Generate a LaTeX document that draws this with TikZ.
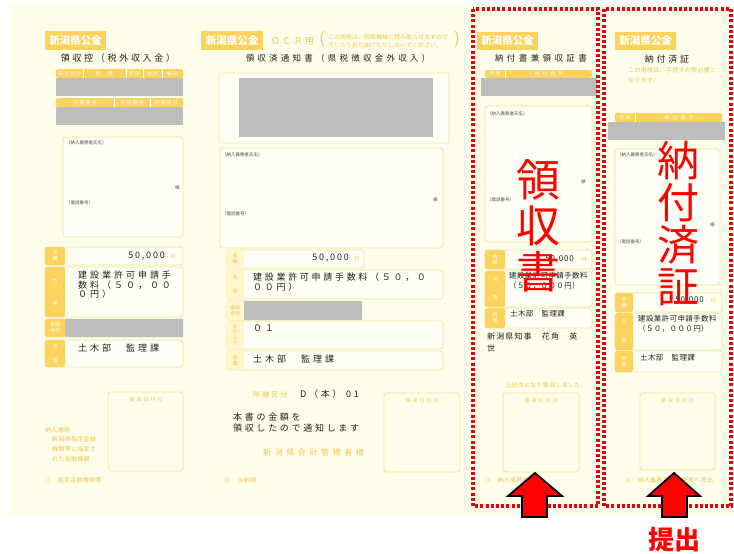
\documentclass[tikz,border=0pt]{standalone}
\usepackage{fontspec}
\setmainfont{Noto Sans CJK JP}
\definecolor{paper}{HTML}{FFFEEA}
\definecolor{yel}{HTML}{FCD35C}
\definecolor{ytx}{HTML}{F3C54E}
\definecolor{bln}{HTML}{F6E3A2}
\definecolor{tabpale}{HTML}{FFF6CC}
\definecolor{gry}{HTML}{BDBDBD}
\definecolor{ink}{HTML}{222222}
\definecolor{rd}{HTML}{FF0000}
\definecolor{rdd}{HTML}{E3000F}
\newcommand\Fz[3]{\fontsize{#1pt}{#2pt}\selectfont\addfontfeature{LetterSpace=#3}}
\newcommand\frow[6]{%
  \draw[obox] (#1,#2) rectangle (#3,#4);
  \fill[#6] (#1,#2) rectangle (#5,#4);}
\tikzset{
  panel/.style={fill=paper, draw=none},
  badge/.style={fill=yel},
  badgetxt/.style={text=white, inner sep=0, font={\Fz{10.5}{10.5}{0}\bfseries}},
  title/.style={text=ink, inner sep=0},
  hdr/.style={fill=yel, rounded corners=2},
  hdrtxt/.style={text=white, inner sep=0, font={\Fz{5}{5}{20}}},
  graybox/.style={fill=gry},
  obox/.style={draw=bln, line width=0.8, rounded corners=3, fill=white!55!paper},
  tabf/.style={fill=yel, rounded corners=2},
  tabn/.style={fill=tabpale, rounded corners=2},
  tabtxt/.style={text=white, inner sep=0, font={\Fz{5}{6}{0}}, align=center},
  tabtxtn/.style={text=ytx, inner sep=0, font={\Fz{5}{6}{0}}, align=center},
  ytxt/.style={text=ytx, inner sep=0},
  ktxt/.style={text=ink, inner sep=0, anchor=west},
  small/.style={text=ink!80, inner sep=0, font={\Fz{4.5}{5}{0}}, anchor=west},
  redtxt/.style={text=rd, inner sep=0, align=center},
  dotborder/.style={draw=rdd, line width=3.2, dash pattern=on 3 off 2.2},
  arrowshape/.style={fill=rd, draw=black, line width=1.8, line join=miter},
  stamp/.style={draw=bln, line width=0.9, rounded corners=3},
}
\begin{document}
\begin{tikzpicture}[x=1pt,y=-1pt]
\useasboundingbox (0,0) rectangle (734,554);
\fill[white] (0,0) rectangle (734,554);
\fill[panel] (10,5) rectangle (734,515);

% ================= Form 1 =================
\fill[badge] (45,31) rectangle (106,50);
\node[badgetxt] (b1) at (75.5,40.5) {新潟県公金};
\node[title, font={\Fz{9}{9}{30}}] (t1) at (118,58) {領収控（税外収入金）};
\fill[hdr] (56,69) rectangle (183,78);
\draw[white, line width=0.8] (83,69)--(83,78) (126,69)--(126,78) (143,69)--(143,78) (162,69)--(162,78);
\node[hdrtxt] (h11) at (69.5,73.5) {収入区分};
\node[hdrtxt] (h12) at (104.5,73.5) {所　属};
\node[hdrtxt] (h13) at (134.5,73.5) {年度};
\node[hdrtxt] (h14) at (152.5,73.5) {会計};
\node[hdrtxt] (h15) at (172.5,73.5) {細区};
\fill[graybox] (56,78) rectangle (183,96);
\fill[hdr] (56,98) rectangle (183,107);
\draw[white, line width=0.8] (114,98)--(114,107) (150,98)--(150,107);
\node[hdrtxt] (h16) at (85,102.5) {決議番号};
\node[hdrtxt] (h17) at (132,102.5) {内訳番号};
\node[hdrtxt] (h18) at (166.5,102.5) {所轄区分};
\fill[graybox] (56,107) rectangle (183,125);
\draw[obox] (63,137) rectangle (183,237);
\node[small] (s11) at (66,143) {（納入義務者氏名）};
\node[small] (s12) at (175,188) {様};
\node[small] (s13) at (66,203) {（電話番号）};
\frow{45}{247}{183}{265}{65}{tabf}
\node[tabtxt] (l11) at (55,256) {金\\額};
\node[ktxt, font={\Fz{9}{9}{20}}, anchor=east] (a1) at (165,256) {50,000};
\node[ytxt, font={\Fz{5}{5}{0}}] (y1) at (173,257) {円};
\frow{45}{267}{183}{317}{65}{tabf}
\node[tabtxt] (l12) at (55,282) {内};
\node[tabtxt] (l13) at (55,304) {容};
\node[ktxt, font={\Fz{9}{9.5}{33}}, align=left, anchor=north west] (c1) at (78,271) {建設業許可申請手\\数料（５０，００\\０円）};
\frow{45}{319}{183}{337}{65}{tabf}
\fill[graybox] (65,319) rectangle (183,337);
\node[tabtxt] (l14) at (55,328) {番納\\号付};
\frow{45}{340}{183}{367}{65}{tabf}
\node[tabtxt] (l15) at (55,347) {所};
\node[tabtxt] (l16) at (55,361) {属};
\node[ktxt, font={\Fz{9}{9}{33}}] (d1) at (78,348) {土木部　監理課};
\draw[stamp] (108,392) rectangle (183,471);
\node[ytxt, font={\Fz{5}{5}{40}}] (st1) at (146,400) {領収日付印};
\node[ytxt, font={\Fz{6}{6}{5}}, anchor=west] (p1) at (45,430) {納入場所};
\node[ytxt, font={\Fz{6}{10}{5}}, anchor=north west, align=left] (p2) at (52,436) {新潟県指定金融\\機関等に指定さ\\れた金融機関};
\node[ytxt, font={\Fz{6}{6}{5}}, anchor=west] (p3) at (45,480) {①　指定金融機関等};

% ================= Form 2 =================
\fill[badge] (201,31) rectangle (263,50);
\node[badgetxt] (b2) at (232,40.5) {新潟県公金};
\node[ytxt, font={\Fz{9}{9}{25}}, anchor=west] (ocr) at (271,41) {ＯＣＲ用};
\node[ytxt, font={\Fz{16}{16}{0}}] (par1) at (322,40) {(};
\node[ytxt, font={\Fz{6}{8}{0}}, anchor=west, align=left] (ocrn) at (328,41) {この用紙は、読取機械に読み取らせますので\\汚したり折り曲げたりしないでください。};
\node[ytxt, font={\Fz{16}{16}{0}}] (par2) at (457,40) {)};
\node[title, font={\Fz{8.5}{8.5}{38}}] (t2) at (338,58) {領収済通知書（県税徴収金外収入）};
\draw[obox] (219,73) rectangle (449,143);
\fill[graybox] (239,78) rectangle (433,137);
\draw[obox] (220,148) rectangle (443,248);
\node[small] (s21) at (222,155) {（納入義務者氏名）};
\node[small] (s22) at (433,200) {様};
\node[small] (s23) at (222,214) {（電話番号）};
\frow{226}{250}{364}{268}{244}{tabn}
\node[tabtxtn] (l21) at (235,259) {金\\額};
\node[ktxt, font={\Fz{9}{9}{20}}, anchor=east] (a2) at (349,258) {50,000};
\node[ytxt, font={\Fz{5}{5}{0}}] (y2) at (357,259) {円};
\frow{226}{270}{443}{299}{244}{tabn}
\node[tabtxtn] (l22) at (235,278) {内};
\node[tabtxtn] (l23) at (235,292) {容};
\node[ktxt, font={\Fz{9}{9.5}{30}}, align=left, anchor=north west] (c2) at (253,273) {建設業許可申請手数料（５０，０\\００円）};
\frow{226}{301}{362}{320}{244}{tabn}
\fill[graybox] (244,301) rectangle (362,320);
\node[tabtxtn] (l24) at (235,310.5) {番納\\号付};
\frow{226}{321}{443}{349}{244}{tabn}
\node[tabtxtn, font={\Fz{4.5}{5.5}{0}}] (l25) at (235,335) {会\\計\\区\\分};
\node[ktxt, font={\Fz{9}{9}{30}}] (k2) at (253,328) {０１};
\frow{226}{351}{443}{370}{244}{tabn}
\node[tabtxtn] (l26) at (235,360.5) {所\\属};
\node[ktxt, font={\Fz{9}{9}{33}}] (d2) at (253,359) {土木部　監理課};
\node[ytxt, font={\Fz{7}{7}{30}}, anchor=west] (sk) at (253,395) {所轄区分};
\node[title, font={\Fz{9}{9}{30}}, anchor=west] (dh) at (300,394) {D（本）\ 01};
\node[title, font={\Fz{9}{10.5}{30}}, anchor=north west, align=left] (hon) at (233,413) {本書の金額を\\領収したので通知します};
\node[ytxt, font={\Fz{8}{8}{45}}, anchor=west] (kk) at (263,452) {新潟県会計管理者様};
\draw[stamp] (384,393) rectangle (460,472);
\node[ytxt, font={\Fz{5}{5}{40}}] (st2) at (422,401) {領収日付印};
\node[ytxt, font={\Fz{6}{6}{10}}, anchor=west] (p4) at (224,480) {②　出納局};

% ================= Form 3 =================
\fill[badge] (477,32) rectangle (538,50);
\node[badgetxt] (b3) at (507.5,41) {新潟県公金};
\node[title, font={\Fz{8.5}{8.5}{40}}] (t3) at (541,58) {納付書兼領収証書};
\fill[hdr] (485,70) rectangle (592,78);
\draw[white, line width=0.8] (505,70)--(505,78);
\node[hdrtxt] (h31) at (495,74) {年度};
\node[hdrtxt, font={\Fz{5}{5}{60}}] (h32) at (549,74) {納付番号};
\fill[graybox] (481,78) rectangle (597,96);
\draw[obox] (485,106) rectangle (592,242);
\node[small] (s31) at (487,114) {（納入義務者氏名）};
\node[small] (s32) at (581,182) {様};
\node[small] (s33) at (487,200) {（電話番号）};
\frow{485}{250}{592}{269}{505}{tabf}
\node[tabtxt] (l31) at (495,259.5) {金\\額};
\node[ktxt, font={\Fz{8}{8}{10}}, anchor=east] (a3) at (574,259) {50,000};
\node[ytxt, font={\Fz{5}{5}{0}}] (y3) at (584,260) {円};
\frow{485}{271}{592}{307}{505}{tabf}
\node[tabtxt] (l32) at (495,280) {内};
\node[tabtxt] (l33) at (495,298) {容};
\node[ktxt, font={\Fz{7.5}{10}{5}}, align=left, anchor=north west] (c3) at (509,272) {建設業許可申請手数料\\（５０，０００円）};
\frow{485}{308}{592}{328}{505}{tabf}
\node[tabtxt] (l34) at (495,318) {所\\属};
\node[ktxt, font={\Fz{7.5}{7.5}{5}}] (d3) at (510,314) {土木部　監理課};
\node[ktxt, font={\Fz{8}{12}{14}}, align=left, anchor=north west] (chiji) at (487,333) {新潟県知事　花角　英\\世};
\node[ytxt, font={\Fz{6}{6}{5}}] (jk) at (546,385) {上記のとおり領収しました。};
\draw[stamp] (503,393) rectangle (579,472);
\node[ytxt, font={\Fz{5}{5}{40}}] (st3) at (541,401) {領収日付印};
\node[ytxt, font={\Fz{6}{6}{5}}, anchor=west] (p5) at (485,480) {③　納入義務者保管};

% ================= Form 4 =================
\fill[badge] (615,32) rectangle (676,50);
\node[badgetxt] (b4) at (645.5,41) {新潟県公金};
\node[title, font={\Fz{9}{9}{30}}] (t4) at (667,59) {納付済証};
\node[ytxt, font={\Fz{6}{10}{5}}, anchor=north west, align=left] (nt4) at (628,67) {この用紙は、手続きの際必要と\\なります。};
\fill[hdr] (615,113) rectangle (722,122);
\draw[white, line width=0.8] (635,113)--(635,122);
\node[hdrtxt] (h41) at (625,117.5) {年度};
\node[hdrtxt, font={\Fz{5}{5}{60}}] (h42) at (679,117.5) {納付番号};
\fill[graybox] (608,122) rectangle (725,140);
\draw[obox] (615,149) rectangle (720,285);
\node[small] (s41) at (617,155) {（納入義務者氏名）};
\node[small] (s42) at (710,225) {様};
\node[small] (s43) at (617,242) {（電話番号）};
\frow{615}{293}{722}{312}{633}{tabf}
\node[tabtxt] (l41) at (624,302.5) {金\\額};
\node[ktxt, font={\Fz{8}{8}{10}}, anchor=east] (a4) at (704,300) {50,000};
\node[ytxt, font={\Fz{5}{5}{0}}] (y4) at (713,301) {円};
\frow{615}{313}{722}{350}{633}{tabf}
\node[tabtxt] (l42) at (624,322) {内};
\node[tabtxt] (l43) at (624,341) {容};
\node[ktxt, font={\Fz{7.5}{10}{5}}, align=left, anchor=north west] (c4) at (638,315) {建設業許可申請手数料\\（５０，０００円）};
\frow{615}{351}{722}{372}{633}{tabf}
\node[tabtxt] (l44) at (624,361.5) {所\\属};
\node[ktxt, font={\Fz{7.5}{7.5}{5}}] (d4) at (640,358) {土木部　監理課};
\draw[stamp] (640,393) rectangle (715,470);
\node[ytxt, font={\Fz{5}{5}{40}}] (st4) at (677.5,401) {領収日付印};
\node[ytxt, font={\Fz{6}{6}{5}}, anchor=west] (p6) at (625,480) {④　納入義務者から所属へ提出};

% ================= Red overlays =================
\draw[dotborder] (473,9) rectangle (598,506);
\draw[dotborder] (604,9) rectangle (731,506);
\node[redtxt, font={\Fz{44}{46}{0}}] (ryoshu) at (538,226) {領\\収\\書};
\node[redtxt, font={\Fz{42}{42}{0}}] (nofu) at (678,223) {納\\付\\済\\証};
\draw[arrowshape] (535,473) -- (562,496) -- (547,496) -- (547,517) -- (522,517) -- (522,496) -- (508,496) -- cycle;
\draw[arrowshape] (674,473) -- (700,496) -- (687,496) -- (687,517) -- (662,517) -- (662,496) -- (648,496) -- cycle;
\node[redtxt, font={\Fz{26}{26}{0}\bfseries}] (teishutsu) at (674,540) {提出};
\end{tikzpicture}
\end{document}
